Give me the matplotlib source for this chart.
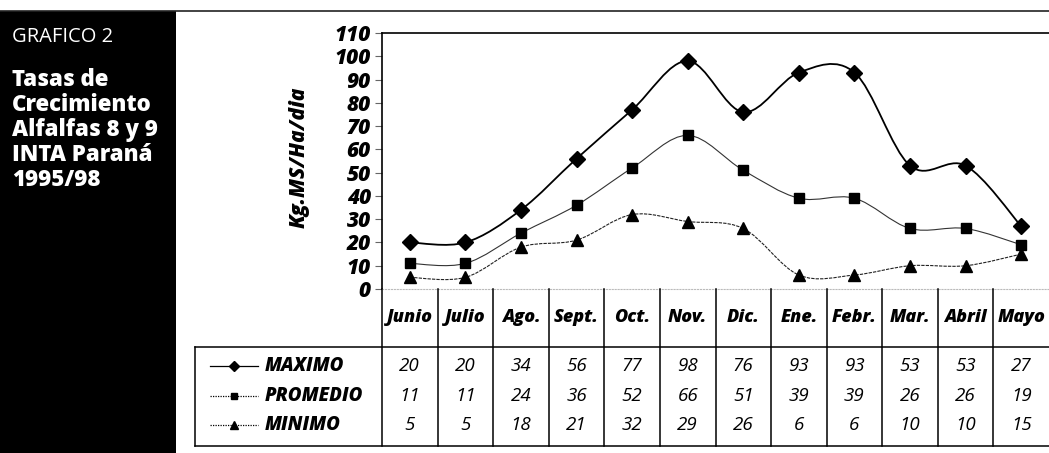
import matplotlib
matplotlib.use("Agg")
import matplotlib.pyplot as plt
from matplotlib.path import Path
from matplotlib.patches import PathPatch, Rectangle
from matplotlib.lines import Line2D

plt.rcParams['font.family'] = ['Open Sans', 'DejaVu Sans']

# datos del grafico
meses = ["Junio", "Julio", "Ago.", "Sept.", "Oct.", "Nov.", "Dic.",
         "Ene.", "Febr.", "Mar.", "Abril", "Mayo"]
maximo = [20, 20, 34, 56, 77, 98, 76, 93, 93, 53, 53, 27]
promedio = [11, 11, 24, 36, 52, 66, 51, 39, 39, 26, 26, 19]
minimo = [5, 5, 18, 21, 32, 29, 26, 6, 6, 10, 10, 15]
nombres = ["MAXIMO", "PROMEDIO", "MINIMO"]
yticks = list(range(0, 111, 10))
titulo = "GRAFICO 2"
subtitulo = "Tasas de\nCrecimiento\nAlfalfas 8 y 9\nINTA Paraná\n1995/98"
ylabel = "Kg.MS/Ha/dia"

W, H = 1049, 453


def fx(px):
    return px / W


def fy(py):
    return 1 - py / H


def smooth_path(xs, ys):
    # curva suavizada tipo excel (bezier por los puntos)
    pts = list(zip(xs, ys))
    n = len(pts)
    verts = [pts[0]]
    codes = [Path.MOVETO]
    for i in range(n - 1):
        p0 = pts[i - 1] if i > 0 else pts[i]
        p1 = pts[i]
        p2 = pts[i + 1]
        p3 = pts[i + 2] if i + 2 < n else pts[i + 1]
        c1 = (p1[0] + (p2[0] - p0[0]) / 6, p1[1] + (p2[1] - p0[1]) / 6)
        c2 = (p2[0] - (p3[0] - p1[0]) / 6, p2[1] - (p3[1] - p1[1]) / 6)
        verts += [c1, c2, p2]
        codes += [Path.CURVE4] * 3
    return Path(verts, codes)


fig = plt.figure(figsize=(W / 100, H / 100), dpi=100)

# panel negro y linea superior
fig.patches.append(Rectangle((0, 0), fx(176), fy(11), transform=fig.transFigure,
                             facecolor='black', edgecolor='none'))
fig.add_artist(Line2D([0, 1], [fy(11), fy(11)], color='#222222', lw=1.2))
fig.text(fx(12), fy(37), titulo, color='white', fontsize=14.5, va='center')
fig.text(fx(12), fy(68), subtitulo, color='white', fontsize=16, fontweight='heavy',
         va='top', linespacing=1.05)

ax = fig.add_axes([fx(382), fy(289), fx(1049) - fx(382), fy(33) - fy(289)])
ax.set_xlim(-0.5, len(meses) - 0.5)
ax.set_ylim(0, 110)
x = list(range(len(meses)))

estilos = [
    dict(color='black', lw=1.3, ls='-', marker='D', ms=8),
    dict(color='#333333', lw=0.8, ls='-', marker='s', ms=6.5),
    dict(color='#222222', lw=0.8, ls=(0, (3, 1)), marker='^', ms=8.5),
]
for serie, st in zip([maximo, promedio, minimo], estilos):
    ax.add_patch(PathPatch(smooth_path(x, serie), fill=False, edgecolor=st['color'],
                           lw=st['lw'], ls=st['ls']))
    ax.plot(x, serie, ls='none', marker=st['marker'], ms=st['ms'], color='black')

ax.set_yticks(yticks)
ax.set_yticklabels([str(v) for v in yticks], fontsize=15, fontweight='heavy',
                   style='italic')
ax.tick_params(axis='y', direction='out', length=5, width=0.8, color='#666666', pad=3)
ax.set_xticks([])
for s in ['left', 'top']:
    ax.spines[s].set_linewidth(1.2)
ax.spines['right'].set_visible(False)
ax.spines['bottom'].set_color('#bbbbbb')
ax.spines['bottom'].set_linestyle(':')
fig.text(fx(299), fy(157), ylabel, rotation=90, fontsize=15, fontweight='heavy',
         style='italic', ha='center', va='center')

# tabla de datos
tab = fig.add_axes([fx(382), fy(453), fx(1049) - fx(382), fy(289) - fy(453)], sharex=ax)
tab.set_ylim(453, 289)
tab.axis('off')
px_unit = (1049 - 382) / len(meses)
x_left = -0.5 - (382 - 195) / px_unit

for b in range(len(meses)):
    tab.plot([b - 0.5, b - 0.5], [289, 446], color='black', lw=1.1, clip_on=False)
tab.plot([x_left, 11.5], [347, 347], color='black', lw=1.1, clip_on=False)
tab.plot([x_left, 11.5], [446, 446], color='black', lw=1.1, clip_on=False)
tab.plot([x_left, x_left], [347, 446], color='black', lw=1.1, clip_on=False)

for i, m in enumerate(meses):
    tab.text(i, 318, m, ha='center', va='center', fontsize=13, fontweight='heavy',
             style='italic')

filas_y = [366, 396, 425]
leg_ls = ['-', (0, (1, 1)), (0, (1, 1))]
for serie, nombre, yy, st, lls in zip([maximo, promedio, minimo], nombres, filas_y,
                                      estilos, leg_ls):
    x0 = -0.5 - (382 - 210) / px_unit
    x1 = -0.5 - (382 - 258) / px_unit
    tab.plot([x0, x1], [yy, yy], color='black', lw=0.9, ls=lls, clip_on=False)
    tab.plot([(x0 + x1) / 2], [yy], marker=st['marker'], ms=st['ms'] * 0.7,
             color='black', clip_on=False)
    tab.text(-0.5 - (382 - 265) / px_unit, yy, nombre, ha='left', va='center',
             fontsize=13.5, fontweight='heavy', style='italic')
    for i, v in enumerate(serie):
        tab.text(i, yy, str(v), ha='center', va='center', fontsize=13.5, style='italic',
                 fontweight='medium')

fig.savefig("out.png", dpi=100)
